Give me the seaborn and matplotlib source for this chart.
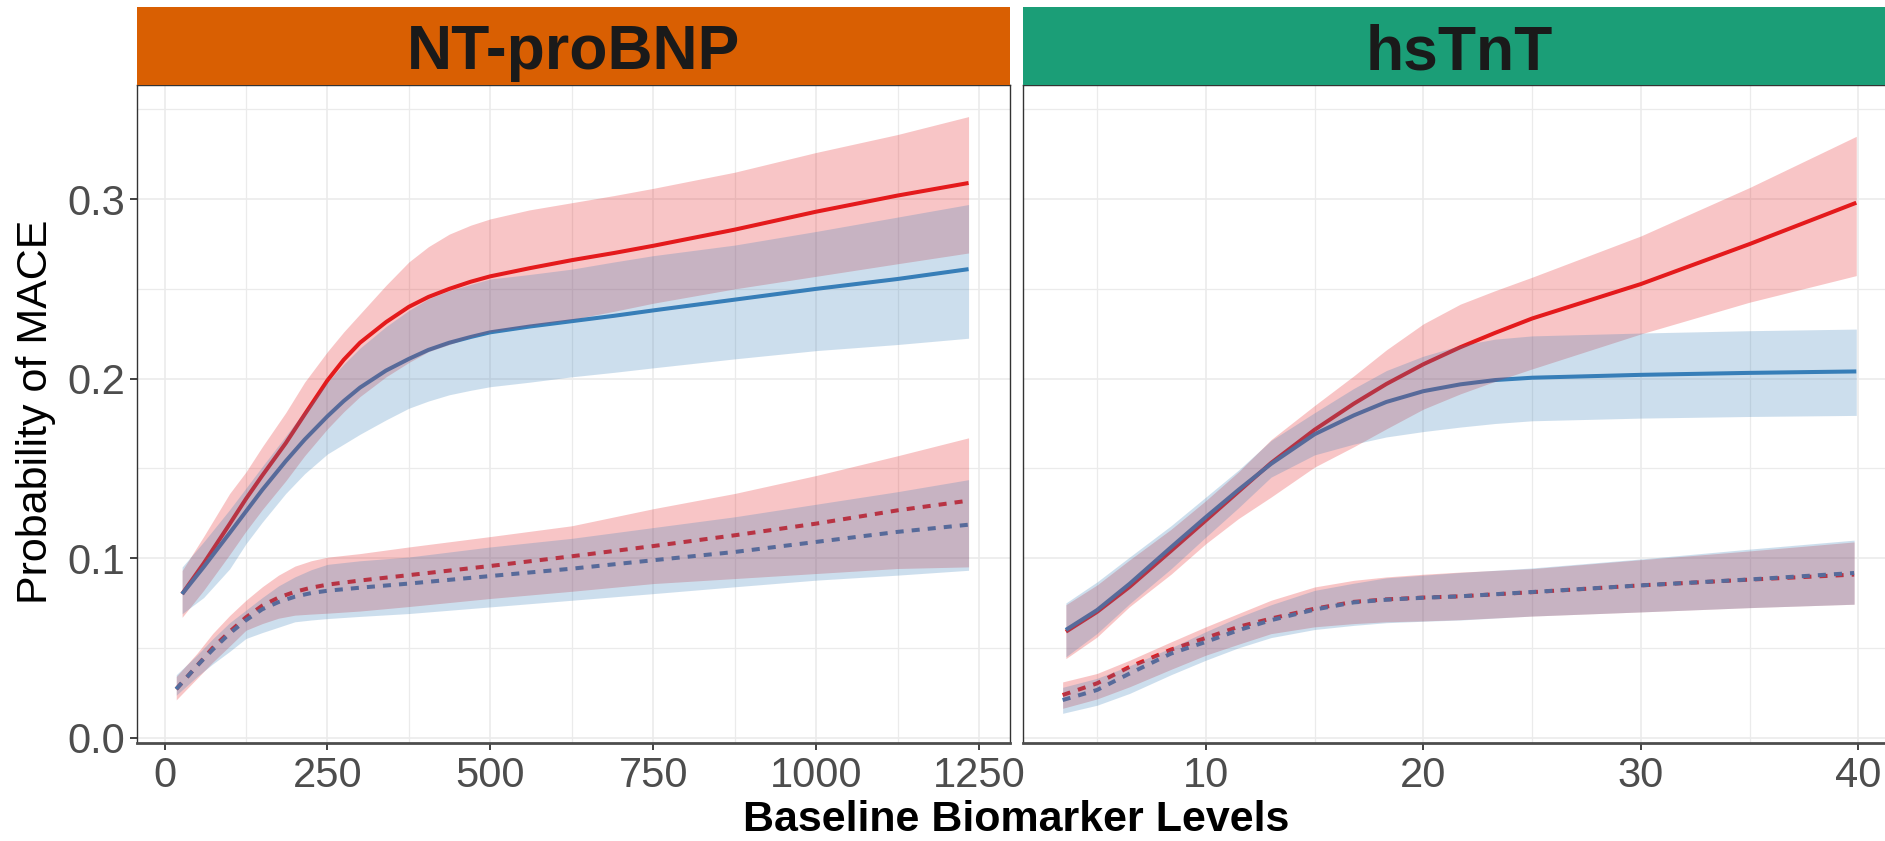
import matplotlib
matplotlib.use("Agg")
import matplotlib.pyplot as plt
from matplotlib.ticker import MultipleLocator
import numpy as np
import pandas as pd
import seaborn as sns

# ---- NT-proBNP panel ----
bnp_x = [27, 60, 100, 125, 150, 186, 215, 250, 275, 300, 340, 375, 405, 437, 470, 500, 560, 625, 690, 750,
         875, 1000, 1125, 1234]
bnp_red_solid = [0.080, 0.097, 0.119, 0.133, 0.146, 0.164, 0.180, 0.199, 0.2105, 0.220, 0.2315, 0.240,
                 0.2455, 0.250, 0.254, 0.257, 0.2615, 0.266, 0.270, 0.274, 0.283, 0.293, 0.302, 0.309]
bnp_red_solid_lo = [0.067, 0.082, 0.102, 0.115, 0.127, 0.143, 0.157, 0.172, 0.1815, 0.190, 0.201, 0.209,
                    0.215, 0.219, 0.223, 0.226, 0.2295, 0.233, 0.2375, 0.242, 0.250, 0.257, 0.264, 0.270]
bnp_red_solid_hi = [0.093, 0.112, 0.136, 0.148, 0.162, 0.181, 0.198, 0.215, 0.226, 0.236, 0.252, 0.265,
                    0.2735, 0.2805, 0.2855, 0.289, 0.294, 0.298, 0.302, 0.306, 0.315, 0.326, 0.336, 0.346]
bnp_blue_solid = [0.080, 0.095, 0.114, 0.126, 0.138, 0.154, 0.166, 0.179, 0.1875, 0.195, 0.2045, 0.211,
                  0.216, 0.220, 0.2232, 0.2258, 0.229, 0.232, 0.235, 0.238, 0.244, 0.250, 0.2555, 0.261]
bnp_blue_solid_lo = [0.069, 0.078, 0.094, 0.108, 0.120, 0.136, 0.147, 0.158, 0.1635, 0.169, 0.177, 0.1835,
                     0.1875, 0.191, 0.1935, 0.1955, 0.198, 0.201, 0.2035, 0.206, 0.211, 0.2156, 0.219, 0.2225]
bnp_blue_solid_hi = [0.095, 0.109, 0.127, 0.139, 0.151, 0.168, 0.182, 0.198, 0.208, 0.217, 0.229, 0.238,
                     0.2445, 0.249, 0.2525, 0.2555, 0.258, 0.261, 0.265, 0.2685, 0.2744, 0.282, 0.290, 0.297]

bnp_xd = [18, 50, 74, 100, 125, 150, 175, 200, 225, 250, 300, 375, 500, 625, 750, 875, 1000, 1125, 1234]
bnp_red_dash = [0.027, 0.040, 0.050, 0.059, 0.067, 0.0735, 0.078, 0.0812, 0.0835, 0.0852, 0.0875, 0.0905,
                0.0956, 0.101, 0.1067, 0.1127, 0.1192, 0.1266, 0.132]
bnp_red_dash_lo = [0.021, 0.033, 0.042, 0.051, 0.0598, 0.0635, 0.0665, 0.0682, 0.0688, 0.0693, 0.0705,
                   0.073, 0.0775, 0.0815, 0.0858, 0.0886, 0.0914, 0.0942, 0.0951]
bnp_red_dash_hi = [0.034, 0.047, 0.058, 0.068, 0.0765, 0.084, 0.0905, 0.0955, 0.0985, 0.1005, 0.1025,
                   0.1062, 0.112, 0.118, 0.1275, 0.136, 0.146, 0.157, 0.167]
bnp_blue_dash = [0.027, 0.040, 0.049, 0.058, 0.0654, 0.0715, 0.0755, 0.0785, 0.0805, 0.0818, 0.0835,
                 0.0858, 0.090, 0.0941, 0.0988, 0.1034, 0.109, 0.1146, 0.1186]
bnp_blue_dash_lo = [0.0236, 0.034, 0.041, 0.048, 0.0552, 0.0585, 0.0615, 0.0645, 0.0655, 0.0663, 0.0675,
                    0.0691, 0.0728, 0.0765, 0.0802, 0.084, 0.0877, 0.0905, 0.0932]
bnp_blue_dash_hi = [0.035, 0.046, 0.055, 0.064, 0.071, 0.078, 0.0845, 0.0895, 0.0935, 0.0965, 0.0985,
                    0.1006, 0.1062, 0.111, 0.117, 0.123, 0.130, 0.137, 0.1437]

# ---- hsTnT panel ----
tnt_x = [3.57, 5, 6.5, 8.4, 10, 11.5, 13, 15, 16.8, 18.3, 20, 21.7, 23.3, 25, 30, 35, 39.9]
tnt_red_solid = [0.059, 0.070, 0.084, 0.104, 0.121, 0.137, 0.153, 0.1715, 0.186, 0.197, 0.208, 0.2175,
                 0.2255, 0.2335, 0.2527, 0.275, 0.298]
tnt_red_solid_lo = [0.044, 0.056, 0.073, 0.091, 0.108, 0.122, 0.134, 0.1507, 0.162, 0.172, 0.183, 0.1915,
                    0.1985, 0.2054, 0.2249, 0.2426, 0.2574]
tnt_red_solid_hi = [0.074, 0.085, 0.099, 0.116, 0.132, 0.148, 0.166, 0.185, 0.2015, 0.216, 0.2305, 0.2415,
                    0.249, 0.2565, 0.2795, 0.3065, 0.335]
tnt_blue_solid = [0.060, 0.071, 0.0857, 0.106, 0.1228, 0.138, 0.1525, 0.169, 0.1795, 0.187, 0.193,
                  0.1968, 0.1992, 0.2005, 0.2021, 0.2032, 0.204]
tnt_blue_solid_lo = [0.045, 0.058, 0.0746, 0.094, 0.1117, 0.128, 0.1451, 0.1575, 0.1635, 0.1675, 0.1705,
                     0.173, 0.175, 0.1765, 0.178, 0.1789, 0.1795]
tnt_blue_solid_hi = [0.075, 0.0867, 0.1006, 0.118, 0.134, 0.149, 0.1655, 0.181, 0.1945, 0.2045, 0.2125,
                     0.2185, 0.222, 0.2238, 0.2254, 0.2267, 0.2276]

tnt_xd = [3.42, 5, 6.5, 8.4, 10, 11.5, 13, 15, 16.8, 18.3, 20, 21.7, 25, 30, 35, 39.8]
tnt_red_dash = [0.0237, 0.0302, 0.0394, 0.049, 0.0555, 0.0617, 0.0663, 0.0718, 0.0756, 0.077, 0.078,
                0.0787, 0.081, 0.0848, 0.088, 0.0908]
tnt_red_dash_lo = [0.0163, 0.0215, 0.0283, 0.038, 0.0459, 0.052, 0.0579, 0.0617, 0.0635, 0.0645, 0.065,
                   0.0657, 0.0677, 0.070, 0.0724, 0.0743]
tnt_red_dash_hi = [0.031, 0.0357, 0.0431, 0.0533, 0.0617, 0.0691, 0.0765, 0.0839, 0.0876, 0.0895, 0.091,
                   0.0922, 0.0941, 0.0991, 0.104, 0.109]
tnt_blue_dash = [0.0209, 0.0265, 0.0357, 0.0468, 0.0533, 0.0598, 0.0654, 0.0713, 0.0753, 0.0768, 0.0779,
                 0.0787, 0.0811, 0.0848, 0.0881, 0.0917]
tnt_blue_dash_lo = [0.0135, 0.018, 0.0246, 0.035, 0.0431, 0.050, 0.0557, 0.0602, 0.0625, 0.064, 0.0648,
                    0.0655, 0.0677, 0.070, 0.0724, 0.0743]
tnt_blue_dash_hi = [0.028, 0.033, 0.040, 0.050, 0.059, 0.067, 0.074, 0.082, 0.086, 0.089, 0.0905, 0.092,
                    0.0945, 0.0995, 0.105, 0.110]

panel_titles = ["NT-proBNP", "hsTnT"]
strip_colors = ["#D95F02", "#1B9E77"]
palette = {"A": "#E41A1C", "B": "#377EB8"}


def make_df(xs, xd, rs, rs_lo, rs_hi, bs, bs_lo, bs_hi, rd, rd_lo, rd_hi, bd, bd_lo, bd_hi):
    parts = []
    for x, y, lo, hi, g, t in [(xs, rs, rs_lo, rs_hi, "A", "solid"),
                               (xs, bs, bs_lo, bs_hi, "B", "solid"),
                               (xd, rd, rd_lo, rd_hi, "A", "dashed"),
                               (xd, bd, bd_lo, bd_hi, "B", "dashed")]:
        parts.append(pd.DataFrame({"x": x, "y": y, "lo": lo, "hi": hi, "group": g, "type": t}))
    return pd.concat(parts, ignore_index=True)


df_bnp = make_df(bnp_x, bnp_xd, bnp_red_solid, bnp_red_solid_lo, bnp_red_solid_hi,
                 bnp_blue_solid, bnp_blue_solid_lo, bnp_blue_solid_hi,
                 bnp_red_dash, bnp_red_dash_lo, bnp_red_dash_hi,
                 bnp_blue_dash, bnp_blue_dash_lo, bnp_blue_dash_hi)
df_tnt = make_df(tnt_x, tnt_xd, tnt_red_solid, tnt_red_solid_lo, tnt_red_solid_hi,
                 tnt_blue_solid, tnt_blue_solid_lo, tnt_blue_solid_hi,
                 tnt_red_dash, tnt_red_dash_lo, tnt_red_dash_hi,
                 tnt_blue_dash, tnt_blue_dash_lo, tnt_blue_dash_hi)

sns.set_style("white")
plt.rcParams["font.family"] = ["Liberation Sans", "DejaVu Sans"]

W, H = 1885, 841
fig = plt.figure(figsize=(W / 100, H / 100), dpi=100)

panel_top, panel_bot = 85, 743.3
panels = [
    dict(df=df_bnp, left=136.5, xlim=(-43, 1297.6), major=250, minor=125),
    dict(df=df_tnt, left=1022.6, xlim=(1.58, 41.73), major=10, minor=5),
]
pw = 873.5

for i, p in enumerate(panels):
    ax = fig.add_axes([p["left"] / W, 1 - panel_bot / H, pw / W, (panel_bot - panel_top) / H])
    d = p["df"]
    sns.lineplot(data=d, x="x", y="y", hue="group", style="type", palette=palette,
                 dashes={"solid": "", "dashed": (2.0, 2.0)}, linewidth=2.9,
                 estimator=None, sort=True, legend=False, ax=ax, zorder=2)
    for ln in ax.lines:
        ln.set_linewidth(2.9)
        ln.set_solid_capstyle("butt")
        ln.set_solid_joinstyle("round")
    # ribbons drawn over the lines, like the reference
    for (g, t), sub in d.groupby(["group", "type"]):
        sub = sub.sort_values("x")
        ax.fill_between(sub["x"], sub["lo"], sub["hi"], color=palette[g], alpha=0.25,
                        linewidth=0, zorder=3)

    ax.set_xlim(*p["xlim"])
    ax.set_ylim(-0.0032, 0.3636)
    ax.xaxis.set_major_locator(MultipleLocator(p["major"]))
    ax.xaxis.set_minor_locator(MultipleLocator(p["minor"]))
    ax.yaxis.set_major_locator(MultipleLocator(0.1))
    ax.yaxis.set_minor_locator(MultipleLocator(0.05))
    ax.grid(which="major", color="#EBEBEB", linewidth=1.2, zorder=0)
    ax.grid(which="minor", color="#EBEBEB", linewidth=0.9, zorder=0)
    ax.set_axisbelow(True)
    ax.set_xlabel("")
    ax.set_ylabel("")
    ax.tick_params(which="minor", length=0)
    ax.tick_params(axis="x", which="major", length=5, width=1.3, color="#333333",
                   labelsize=30, labelcolor="#4D4D4D", pad=4, bottom=True)
    if i == 0:
        ax.yaxis.set_major_formatter(plt.FuncFormatter(lambda v, _: f"{v:.1f}"))
        ax.tick_params(axis="y", which="major", length=5, width=1.3, color="#333333",
                       labelsize=30, labelcolor="#4D4D4D", pad=3, left=True)
    else:
        ax.tick_params(axis="y", which="both", left=False, labelleft=False)
    for side in ["left", "right", "top"]:
        ax.spines[side].set_color("#333333")
        ax.spines[side].set_linewidth(1.0)
    ax.spines["bottom"].set_color("#4D4D4D")
    ax.spines["bottom"].set_linewidth(2.0)

    # facet strip
    sax = fig.add_axes([p["left"] / W, 1 - panel_top / H, pw / W, (panel_top - 7.3) / H])
    sax.set_facecolor(strip_colors[i])
    sax.set_xticks([])
    sax.set_yticks([])
    for s in sax.spines.values():
        s.set_visible(False)
    sax.text(0.5, (panel_top - 69) / (panel_top - 7.3), panel_titles[i], ha="center", va="baseline",
             fontsize=45, fontweight="bold", color="#1A1A1A", transform=sax.transAxes)

fig.text(36 / W, 1 - 411.7 / H, "Probability of MACE", rotation=90, ha="center", va="center",
         fontsize=31, color="black")
fig.text(1016 / W, (H - 831) / H, "Baseline Biomarker Levels", ha="center", va="baseline",
         fontsize=31, fontweight="bold", color="black")

fig.savefig("out.png", dpi=100, facecolor="white")
